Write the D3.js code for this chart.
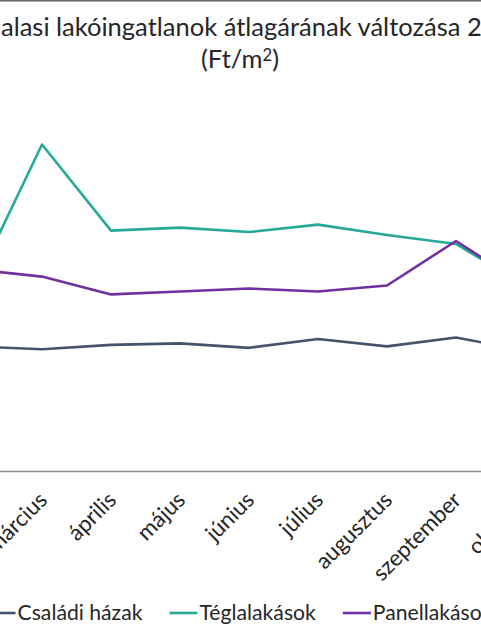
<!DOCTYPE html>
<html>
<head>
<meta charset="utf-8">
<script src="https://cdn.jsdelivr.net/npm/d3@7"></script>
<style>
	html, body { margin: 0; padding: 0; background: #fff; overflow: hidden; }
	svg { display: block; }
</style>
</head>
<body>
<div id="chart"></div>
<script>
"use strict";

//  Data (Ft/m2), months that fall outside the picture are left empty
const months = ['január', 'február', 'március', 'április', 'május', 'június', 'július', 'augusztus', 'szeptember', 'október', 'november', 'december'];
const csaladiHazak = [null, 84000, 82000, 85000, 86000, 83000, 89000, 84000, 90000, 81000, null, null];
const teglalakasok = [null, 123000, 220000, 162000, 164000, 161000, 166000, 159000, 153000, 125000, null, null];
const panellakasok = [null, 136000, 131000, 119000, 121000, 123000, 121000, 125000, 155000, 125000, null, null];

const seriesNames = ['Családi házak', 'Téglalakások', 'Panellakások'];
const seriesColors = ['#44546a', '#26a999', '#7030a0'];

const titlePrefix = 'Kiskunh';
const titleLine1 = 'Kiskunhalasi lakóingatlanok átlagárának változása 2019-ben';
const width = 481, height = 640;
const font = 'Lato, "Open Sans", sans-serif';
const centerX = 240;

const svg = d3.select('#chart').append('svg')
	.attr('width', width)
	.attr('height', height)
	.style('font-family', font);

//  width of a string at a font size
function textWidth(text, size)
{
	const probe = svg.append('text').style('font-size', size + 'px').text(text);
	const w = probe.node().getComputedTextLength();
	probe.remove();
	return w;
}

//  size a font so that a string gets a given width
function fitSize(text, target)
{
	return 20 * target / textWidth(text, 20);
}

//  chart border (only its top edge is in the picture)
svg.append('rect')
	.attr('x', -250).attr('y', 0.8)
	.attr('width', 980).attr('height', 720)
	.attr('fill', 'none')
	.attr('stroke', '#6b6b6b')
	.attr('stroke-width', 1.6);

//  Title
const titleSize = fitSize('alasi lakóingatlanok átlagárának változása 2', 481);
svg.append('text')
	.attr('x', 1 - textWidth(titlePrefix, titleSize)).attr('y', 36)
	.style('font-size', titleSize + 'px')
	.attr('fill', '#262626')
	.text(titleLine1);

const sub = svg.append('text')
	.attr('x', centerX).attr('y', 68)
	.attr('text-anchor', 'middle')
	.style('font-size', titleSize + 'px')
	.attr('fill', '#262626');
sub.append('tspan').text('(Ft/m');
sub.append('tspan').attr('dy', -7).style('font-size', (titleSize * 0.65) + 'px').text('2');
sub.append('tspan').attr('dy', 7).text(')');

//  Scales
const x = d3.scaleBand().domain(months).range([-130.5, 697.5]);
const y = d3.scaleLinear().domain([0, 250000]).range([471, 100]);
const cx = m => x(m) + x.bandwidth() / 2;

//  X axis
const labelSize = fitSize('szeptember', 114);
const xAxis = svg.append('g')
	.attr('transform', `translate(0, ${y(0)})`)
	.call(d3.axisBottom(x).tickSize(0).tickPadding(0));
xAxis.select('.domain').attr('stroke', '#8c8c8c').attr('stroke-width', 1.3);
xAxis.selectAll('.tick text')
	.attr('transform', 'translate(1, 25) rotate(-45)')
	.attr('text-anchor', 'end')
	.attr('dy', '0.35em')
	.attr('y', 0)
	.style('font-family', font)
	.style('font-size', labelSize + 'px')
	.attr('fill', '#262626');

//  Lines
const line = d3.line()
	.defined(d => d.value !== null)
	.x(d => cx(d.month))
	.y(d => y(d.value));

[csaladiHazak, teglalakasok, panellakasok].forEach((values, i) =>
{
	svg.append('path')
		.datum(months.map((m, j) => ({ month: m, value: values[j] })))
		.attr('d', line)
		.attr('fill', 'none')
		.attr('stroke', seriesColors[i])
		.attr('stroke-width', 2.6)
		.attr('stroke-linejoin', 'round');
});

//  Legend
const legendSize = fitSize('Családi házak', 125);
const lineLen = 28, lineGap = 2, itemGap = 27;
const textWidths = seriesNames.map(n => textWidth(n, legendSize));
const totalWidth = d3.sum(textWidths) + seriesNames.length * (lineLen + lineGap) + (seriesNames.length - 1) * itemGap;

let lx = centerX - totalWidth / 2;
const legend = svg.append('g');
seriesNames.forEach((name, i) =>
{
	legend.append('line')
		.attr('x1', lx).attr('x2', lx + lineLen)
		.attr('y1', 613).attr('y2', 613)
		.attr('stroke', seriesColors[i])
		.attr('stroke-width', 2.6);
	legend.append('text')
		.attr('x', lx + lineLen + lineGap).attr('y', 620)
		.style('font-size', legendSize + 'px')
		.attr('fill', '#262626')
		.text(name);
	lx += lineLen + lineGap + textWidths[i] + itemGap;
});
</script>
</body>
</html>
